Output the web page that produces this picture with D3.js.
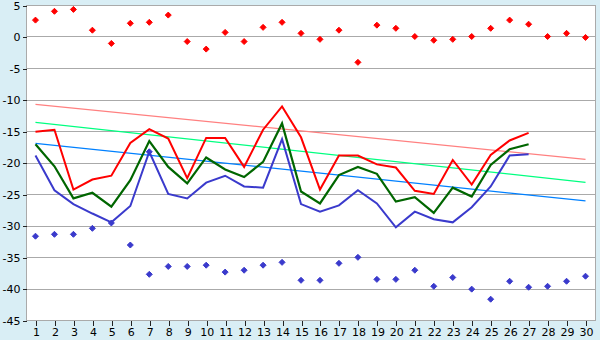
<!DOCTYPE html>
<html><head><meta charset="utf-8">
<script src="https://cdn.jsdelivr.net/npm/d3@7"></script>
<style>
html,body{margin:0;padding:0;background:#d9eef5;}
svg{display:block;font-family:"DejaVu Sans",Verdana,sans-serif;}
</style></head>
<body><svg id="c" width="600" height="340"></svg>
<script>
const days = d3.range(1, 31);
const yTicks = [5, 0, -5, -10, -15, -20, -25, -30, -35, -40, -45];

const redLine = [-15.1,-14.8,-24.3,-22.7,-22.1,-16.9,-14.7,-16.2,-22.5,-16.1,-16.1,-20.7,-14.8,-11.1,-16.0,-24.3,-18.9,-18.9,-20.3,-20.8,-24.5,-25.0,-19.6,-23.5,-18.8,-16.5,-15.3];
const greenLine = [-17.1,-20.6,-25.7,-24.8,-27.0,-22.8,-16.6,-20.7,-23.3,-19.2,-21.1,-22.3,-19.9,-13.8,-24.6,-26.5,-22.0,-20.7,-21.8,-26.2,-25.5,-28.0,-24.0,-25.4,-20.4,-17.9,-17.1];
const blueLine = [-18.9,-24.4,-26.6,-28.1,-29.5,-26.9,-18.3,-25.0,-25.7,-23.2,-22.1,-23.8,-24.0,-16.3,-26.6,-27.8,-26.8,-24.4,-26.5,-30.3,-27.8,-29.0,-29.5,-27.1,-23.8,-18.9,-18.7];

const redPoints = [2.6,4.0,4.3,1.0,-1.1,2.1,2.25,3.4,-0.8,-2.0,0.65,-0.8,1.45,2.25,0.5,-0.45,1.0,-4.1,1.8,1.3,0.0,-0.6,-0.45,0.0,1.3,2.6,1.95,0.0,0.5,-0.15];
const bluePoints = [-31.7,-31.4,-31.4,-30.45,-29.6,-33.1,-37.75,-36.5,-36.5,-36.3,-37.4,-37.1,-36.3,-35.85,-38.7,-38.7,-36.0,-35.05,-38.55,-38.55,-37.1,-39.65,-38.25,-40.1,-41.7,-38.85,-39.8,-39.65,-38.85,-38.05];
const blueLineMarks = [{day:7, v:-18.3}];

const redTrend = [{day:1, v:-10.76},{day:30, v:-19.5}];
const greenTrend = [{day:1, v:-13.62},{day:30, v:-23.15}];
const blueTrend = [{day:1, v:-16.96},{day:30, v:-26.1}];

const svg = d3.select("#c");
const L = 26, R = 595, T = 5, B = 320;
const x = d3.scalePoint().domain(days).range([L, R]).padding(0.5);
const y = d3.scaleLinear().domain([-45, 5]).range([B, T]);

svg.append("rect").attr("x", L).attr("y", T).attr("width", R - L).attr("height", B - T).attr("fill", "#fff");

// grid
svg.append("g").selectAll("line").data(yTicks).join("line")
  .attr("x1", L).attr("x2", R).attr("y1", d => Math.round(y(d)) + 0.5).attr("y2", d => Math.round(y(d)) + 0.5)
  .attr("stroke", "#aaaaaa").attr("stroke-width", 1).attr("shape-rendering", "crispEdges");
svg.append("line").attr("x1", L + 0.5).attr("x2", L + 0.5).attr("y1", T).attr("y2", B + 1).attr("stroke", "#aaaaaa").attr("shape-rendering", "crispEdges");
svg.append("line").attr("x1", R + 0.5).attr("x2", R + 0.5).attr("y1", T).attr("y2", B + 1).attr("stroke", "#aaaaaa").attr("shape-rendering", "crispEdges");

// axes
const fmt = d => String(d);
const ya = svg.append("g").attr("transform", `translate(${L + 0.5},0.5)`)
  .call(d3.axisLeft(y).tickValues(yTicks).tickFormat(fmt).tickSize(4).tickPadding(2));
const xa = svg.append("g").attr("transform", `translate(0.5,${B + 0.5})`)
  .call(d3.axisBottom(x).tickSize(5).tickPadding(3));
[ya, xa].forEach(g => {
  g.select(".domain").remove();
  g.selectAll(".tick line").attr("stroke", "#222").attr("shape-rendering", "crispEdges");
  g.selectAll("text").attr("fill", "#000").attr("font-size", 11).attr("font-family", "DejaVu Sans, Verdana, sans-serif");
});

const line = d3.line().x((d, i) => x(i + 1)).y(d => y(d));
const tline = d3.line().x(d => x(d.day)).y(d => y(d.v));

const g = svg.append("g");
g.append("path").datum(redTrend).attr("d", tline).attr("fill", "none").attr("stroke", "#ff8080").attr("stroke-width", 1.2);
g.append("path").datum(greenTrend).attr("d", tline).attr("fill", "none").attr("stroke", "#00ff80").attr("stroke-width", 1.2);
g.append("path").datum(blueTrend).attr("d", tline).attr("fill", "none").attr("stroke", "#0080ff").attr("stroke-width", 1.2);

g.append("path").datum(blueLine).attr("d", line).attr("fill", "none").attr("stroke", "#3a3acc").attr("stroke-width", 2);
g.append("path").datum(greenLine).attr("d", line).attr("fill", "none").attr("stroke", "#006600").attr("stroke-width", 2.2);
g.append("path").datum(redLine).attr("d", line).attr("fill", "none").attr("stroke", "#ff0000").attr("stroke-width", 2);

const diamond = "M0,-3L3,0L0,3L-3,0Z";
const mark = (data, color, fx, fy) => g.append("g").selectAll("path").data(data).join("path")
  .attr("d", diamond).attr("transform", (d, i) => `translate(${fx(d, i)},${fy(d, i)})`)
  .attr("fill", color).attr("stroke", color).attr("stroke-width", 1);
mark(redPoints, "#ff0000", (d, i) => x(i + 1), d => y(d));
mark(bluePoints, "#3a3acc", (d, i) => x(i + 1), d => y(d));
mark(blueLineMarks, "#3a3acc", d => x(d.day), d => y(d.v));
</script></body></html>
